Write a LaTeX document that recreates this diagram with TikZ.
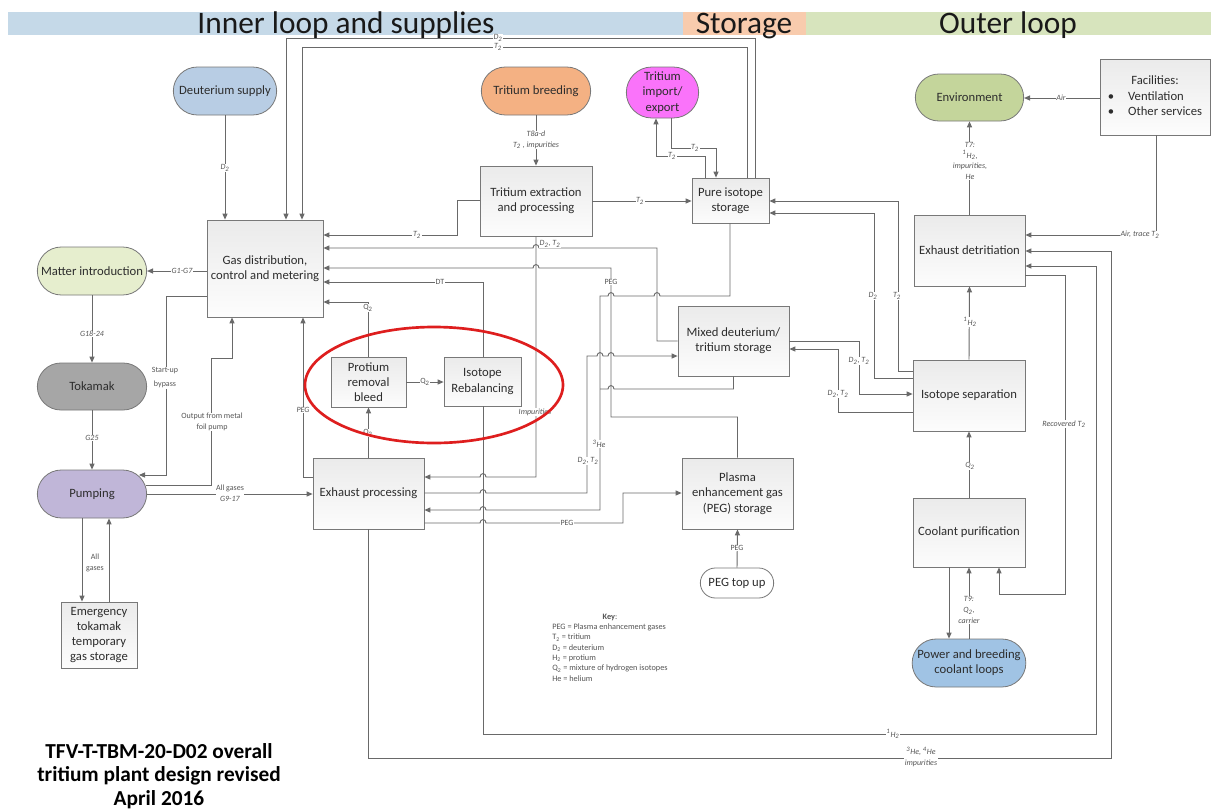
\documentclass[tikz,border=0pt]{standalone}
\usepackage{fontspec}
\setmainfont{Carlito}
\usetikzlibrary{arrows.meta,shapes.misc,shapes.geometric}
\definecolor{lncol}{RGB}{105,105,105}
\definecolor{bxcol}{RGB}{120,120,120}
\definecolor{txcol}{RGB}{45,45,45}
\definecolor{labcol}{RGB}{85,85,85}
\definecolor{bandb}{RGB}{197,217,232}
\definecolor{bando}{RGB}{248,203,173}
\definecolor{bandg}{RGB}{215,228,189}
\definecolor{cdsup}{RGB}{184,205,228}
\definecolor{ctbr}{RGB}{244,177,131}
\definecolor{cimp}{RGB}{250,115,250}
\definecolor{cenv}{RGB}{196,213,155}
\definecolor{cmat}{RGB}{230,238,206}
\definecolor{ctok}{RGB}{166,166,166}
\definecolor{cpump}{RGB}{192,182,216}
\definecolor{cpwr}{RGB}{160,195,228}
\definecolor{cred}{RGB}{222,30,30}
\newcommand\bxfont{\fontsize{9.5}{11.4}\selectfont}
\newcommand\labfont{\fontsize{6}{8}\selectfont}
\newcommand\bx[7]{\node[#6, minimum width={(#4-#2)*0.75pt}, minimum height={(#5-#3)*0.75pt}] (#1) at ({(#2+#4)/2},{(#3+#5)/2}) {#7};}
\newcommand\hopl[2]{-- ({#1+3},#2) .. controls ({#1+3},{#2-4.5}) and ({#1-3},{#2-4.5}) .. ({#1-3},#2)}
\newcommand\hopr[2]{-- ({#1-3},#2) .. controls ({#1-3},{#2-4.5}) and ({#1+3},{#2-4.5}) .. ({#1+3},#2)}
\begin{document}
\begin{tikzpicture}[x=0.75pt,y=-0.75pt,
  ln/.style={draw=lncol, line width=0.7pt},
  ar/.style={ln, -{Triangle[length=4.5pt,width=3.8pt]}},
  bxs/.style={draw=bxcol, line width=0.6pt, top color=black!8, bottom color=black!1, inner sep=1pt, align=center, font=\bxfont, text=txcol},
  stad/.style={rounded rectangle, draw=bxcol, line width=0.6pt, inner sep=1pt, align=center, font=\bxfont, text=txcol},
  lab/.style={font=\labfont\itshape, text=labcol, fill=white, inner sep=0.4pt, align=center},
  labu/.style={font=\labfont, text=labcol, fill=white, inner sep=0.4pt, align=center},
  hdr/.style={font=\fontsize{23.5}{26}\selectfont, text=black!90, anchor=base, inner sep=0}]
\useasboundingbox (0,0) rectangle (1211,811);
\fill[white] (0,0) rectangle (1211,811);
% header bands
\fill[bandb] (8,12) rectangle (683,35);
\fill[bando] (683,12) rectangle (806,35);
\fill[bandg] (806,12) rectangle (1211,35);
\node[hdr] (h1) at (346,33) {Inner loop and supplies};
\node[hdr] (h2) at (744,33) {Storage};
\node[hdr] (h3) at (1008,33) {Outer loop};
% nodes
\bx{gas}{207}{220}{323}{317}{bxs}{Gas distribution,\\control and metering}
\bx{dsup}{172}{67}{278}{115}{stad,fill=cdsup}{Deuterium supply}
\bx{tbr}{480}{67}{592}{115}{stad,fill=ctbr}{Tritium breeding}
\bx{imp}{625}{67}{700}{118}{stad,fill=cimp}{Tritium\\import/\\export}
\bx{tex}{480}{166}{592}{236}{bxs}{Tritium extraction\\and processing}
\bx{pis}{692}{178}{769}{223}{bxs}{Pure isotope\\storage}
\bx{env}{914}{74}{1025}{121}{stad,fill=cenv}{Environment}
\bx{fac}{1100}{59}{1210}{135}{bxs}{\begin{tabular}{@{}c@{\hspace{1.1em}}l@{}}\multicolumn{2}{c}{Facilities:}\\ \textbullet & Ventilation\\ \textbullet & Other services\end{tabular}}
\bx{edt}{914}{215}{1025}{286}{bxs}{Exhaust detritiation}
\bx{mat}{36}{247}{148}{295}{stad,fill=cmat}{Matter introduction}
\bx{tok}{36}{363}{148}{410}{stad,fill=ctok}{Tokamak}
\bx{pump}{36}{470}{148}{518}{stad,fill=cpump}{Pumping}
\bx{emg}{61}{602}{137}{668}{bxs}{Emergency\\tokamak\\temporary\\gas storage}
\bx{prot}{331}{357}{406}{407}{bxs}{Protium\\removal\\bleed}
\bx{reb}{444}{357}{521}{406}{bxs}{Isotope\\Rebalancing}
\bx{exh}{313}{458}{424}{529}{bxs}{Exhaust processing}
\bx{mix}{678}{306}{789}{376}{bxs}{Mixed deuterium/\\tritium storage}
\bx{pegs}{682}{458}{793}{529}{bxs}{Plasma\\enhancement gas\\(PEG) storage}
\bx{ptu}{699}{568}{775}{598}{stad,fill=white}{PEG top up}
\bx{isep}{913}{360}{1025}{431}{bxs}{Isotope separation}
\bx{cp}{913}{498}{1025}{567}{bxs}{Coolant purification}
\bx{pwr}{913}{639}{1025}{687}{stad,fill=cpwr}{Power and breeding\\coolant loops}
% connectors
\draw[ar] (dsup.south) -- (dsup.south |- gas.north);
\draw[ar] (755,0 |- pis.north) -- (755,38) -- (286,38) -- (286,0 |- gas.north);
\draw[ar] (747,0 |- pis.north) -- (747,47) -- (302,47) -- (302,0 |- gas.north);
\draw[ar] (tbr.south) -- (tex.north);
\draw[ar] (tex.east |- 0,201) -- (pis.west |- 0,201);
\draw[ar] (tex.west |- 0,200) -- (457,200) -- (457,235) -- (gas.east |- 0,235);
\draw[ar] (705,0 |- pis.north) -- (705,156) -- (656,156) -- (656,0 |- imp.south);
\draw[ar] (671,0 |- imp.south) -- (671,148) -- (716,148) -- (716,0 |- pis.north);
\draw[ar] (gas.west |- 0,271) -- (mat.east |- 0,271);
\draw[ar] (mat.south) -- (tok.north);
\draw[ar] (tok.south) -- (pump.north);
\coordinate (pumpin) at (139,475);
\coordinate (pumpout) at (146,485);
\draw[ar] (gas.west |- 0,296) -- (166,296) -- (166,475) -- (pumpin);
\draw[ar] (pumpout) -- (211,485) -- (211,358) -- (232,358) -- (232,0 |- gas.south);
\draw[ar] (pump.east) -- (exh.west |- pump.east);
\draw[ar] (82,0 |- pump.south) -- (82,0 |- emg.north);
\draw[ar] (109,0 |- emg.north) -- (109,0 |- pump.south);
\draw[ar] (exh.west |- 0,477) -- (303,477) -- (303,0 |- gas.south);
\draw[ar] (prot.south |- exh.north) -- (prot.south);
\draw[ar] (prot.east) -- (reb.west |- prot.east);
\draw[ar] (prot.north) -- (prot.north |- 0,302) -- (gas.east |- 0,302);
\draw[ar] (483,0 |- reb.north) -- (483,282) -- (gas.east |- 0,282);
\draw[ar] (483,0 |- reb.south) -- (483,734) -- (1096,734) -- (1096,266) -- (edt.east |- 0,266);
\draw[ar] (368,0 |- exh.south) -- (368,758) -- (1111,758) -- (1111,251) -- (edt.east |- 0,251);
\draw[ar] (edt.east |- 0,275) -- (1065,275) -- (1065,594) -- (999,594) -- (999,0 |- cp.south);
\draw[ar] (1156,0 |- fac.south) -- (1156,235) -- (edt.east |- 0,235);
\draw[ar] (fac.west |- 0,98) -- (env.east |- 0,98);
\draw[ar] (edt.north) -- (env.south);
\draw[ar] (isep.north) -- (edt.south);
\draw[ar] (cp.north) -- (isep.south);
\draw[ar] (949,0 |- cp.south) -- (949,0 |- pwr.north);
\draw[ar] (969,0 |- pwr.north) -- (969,0 |- cp.south);
\draw[ar] (isep.west |- 0,371) -- (898,371) -- (898,201) -- (pis.east |- 0,201);
\draw[ar] (isep.west |- 0,378) -- (874,378) -- (874,213) -- (pis.east |- 0,213);
\draw[ar] (mix.east |- 0,341) -- (859,341) -- (859,394) -- (isep.west |- 0,394);
\draw[ar] (isep.west |- 0,412) -- (838,412) -- (838,349) -- (mix.east |- 0,349);
\draw[ar] (mix.west |- 0,341) -- (657,341) -- (657,248) \hopl{536}{248} -- (gas.east |- 0,248);
\draw[ar] (pegs.north) -- (pegs.north |- 0,417) -- (611,417) -- (611,268) \hopl{536}{268} -- (gas.east |- 0,268);
\draw[ar] (730,0 |- pis.south) -- (730,296) \hopl{657}{296} \hopl{611}{296} -- (600,296) -- (600,510) \hopl{483}{510} -- (exh.east |- 0,510);
\draw[ln] (mix.south) -- (mix.south |- 0,389) \hopl{611}{389} -- (600,389);
\draw[ar] (exh.east |- 0,493) \hopr{483}{493} -- (587,493) -- (587,356) \hopr{600}{356} \hopr{611}{356} -- (mix.west |- 0,356);
\draw[ar] (536,0 |- tex.south) -- (536,477) \hopl{483}{477} -- (exh.east |- 0,477);
\draw[ar] (exh.east |- 0,523) \hopr{483}{523} -- (623,523) -- (623,493) -- (pegs.west |- 0,493);
\draw[ar] (ptu.north) -- (pegs.south);
% labels
\node[lab] (l1) at (225,168) {D\textsubscript{2}};
\node[lab] (l2) at (498,38) {D\textsubscript{2}};
\node[lab] (l3) at (498,47) {T\textsubscript{2}};
\node[lab] (l4) at (536,140) {T8a-d\\T\textsubscript{2} , impurities};
\node[lab] (l5) at (640,201) {T\textsubscript{2}};
\node[lab] (l6) at (417,235) {T\textsubscript{2}};
\node[lab] (l7) at (672,156) {T\textsubscript{2}};
\node[lab] (l8) at (695,148) {T\textsubscript{2}};
\node[lab] (l9) at (182,271) {G1-G7};
\node[lab] (l10) at (92,334) {G18-24};
\node[lab] (l11) at (92,438) {G25};
\node[labu,font=\fontsize{6}{10.5}\selectfont] (l12) at (165,378) {Start-up\\bypass};
\node[labu] (l13) at (212,422) {Output from metal\\foil pump};
\node[labu] (l14) at (230,493) {All gases\\\textit{G9-17}};
\node[labu] (l15) at (95,563) {All\\gases};
\node[lab] (l16) at (303,410) {PEG};
\node[labu] (l17) at (368,433) {Q\textsubscript{2}};
\node[labu] (l18) at (425,382) {Q\textsubscript{2}};
\node[labu] (l19) at (368,308) {Q\textsubscript{2}};
\node[labu] (l20) at (440,282) {DT};
\node[lab] (l21) at (893,734) {\textsuperscript{1}H\textsubscript{2}};
\node[lab] (l22) at (921,757) {\textsuperscript{3}He, \textsuperscript{4}He\\impurities};
\node[lab] (l23) at (1064,424) {Recovered T\textsubscript{2}};
\node[lab] (l24) at (1140,235) {Air, trace T\textsubscript{2}};
\node[lab] (l25) at (1061,98) {Air};
\node[lab] (l26) at (970,161) {T7:\\\textsuperscript{1}H\textsubscript{2},\\impurities,\\He};
\node[lab] (l27) at (970,322) {\textsuperscript{1}H\textsubscript{2}};
\node[lab] (l28) at (970,466) {Q\textsubscript{2}};
\node[lab] (l29) at (969,610) {T9:\\Q\textsubscript{2},\\carrier};
\node[lab] (l30) at (897,296) {T\textsubscript{2}};
\node[lab] (l31) at (873,296) {D\textsubscript{2}};
\node[lab] (l32) at (859,361) {D\textsubscript{2}, T\textsubscript{2}};
\node[lab] (l33) at (838,394) {D\textsubscript{2}, T\textsubscript{2}};
\node[lab] (l34) at (550,244) {D\textsubscript{2}, T\textsubscript{2}};
\node[labu] (l35) at (611,282) {PEG};
\node[lab] (l36) at (599,444) {\textsuperscript{3}He};
\node[lab] (l37) at (588,461) {D\textsubscript{2}, T\textsubscript{2}};
\node[lab] (l38) at (535,412) {Impurities};
\node[labu] (l39) at (567,523) {PEG};
\node[labu] (l40) at (737,548) {PEG};
% key
\node[anchor=north west, inner sep=0, text=labcol, font=\fontsize{6.2}{7.7}\selectfont] (key) at (552,612)
 {\begin{tabular}{@{}l@{}}\multicolumn{1}{@{}c@{}}{\textbf{Key}:}\\
 PEG = Plasma enhancement gases\\ T\textsubscript{2} = tritium\\ D\textsubscript{2} = deuterium\\
 H\textsubscript{2} = protium\\ Q\textsubscript{2} = mixture of hydrogen isotopes\\ He = helium\end{tabular}};
% title
\node[anchor=base, align=center, inner sep=0, text=black, font=\bfseries\fontsize{16}{17.3}\selectfont] (title) at (159,805)
 {TFV-T-TBM-20-D02 overall\\tritium plant design revised\\April 2016};
% highlight
\node[ellipse, draw=cred, line width=2pt, minimum width={258*0.75pt}, minimum height={116*0.75pt}] (ell) at (434,385) {};
\end{tikzpicture}
\end{document}
